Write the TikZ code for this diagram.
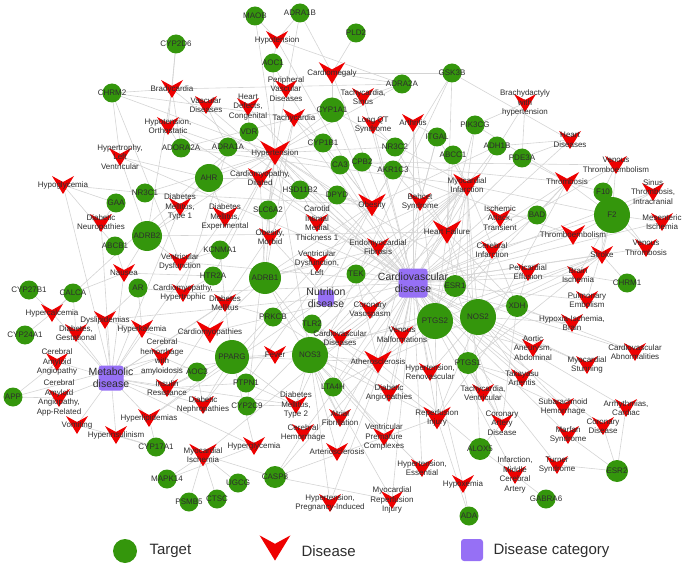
\documentclass[tikz,border=0pt]{standalone}
\usepackage{fontspec}
\setmainfont{Liberation Sans}
\usetikzlibrary{backgrounds}

\definecolor{tgreen}{RGB}{52,150,12}
\definecolor{dred}{RGB}{238,0,0}
\definecolor{cpurple}{RGB}{150,112,245}
\definecolor{edgegray}{RGB}{212,212,212}
\definecolor{labelgray}{RGB}{45,45,45}

\newcommand{\catfont}{\fontsize{10.5}{12}\selectfont}
\newcommand{\legfont}{\fontsize{15}{18}\selectfont}
% disease = red V mark with its label on top
\newcommand{\disnode}[4][1]{%
  \pic[scale=#1] at (#3) {chevron};
  \node[dlabel] (#2) at (#3) {#4};}

\begin{document}
\begin{tikzpicture}[
    x=1pt, y=-1pt,
    every node/.style={font=\fontsize{8}{9.5}\selectfont, text=labelgray},
    gene/.style={circle, fill=tgreen, inner sep=0pt, minimum size=19pt},
    target/.style={gene, label={center:#1}},
    dlabel/.style={inner sep=0pt, align=center},
    category/.style={rectangle, rounded corners=3pt, fill=cpurple, inner sep=0pt, minimum size=#1},
    edge/.style={draw=edgegray, line width=0.6pt},
    chevron/.pic={\fill[dred] (-11,-9) -- (0,-3) -- (11,-9) -- (0,9) -- cycle;}
]
\useasboundingbox (0,0) rectangle (685,572);

% categories
\node[category=29pt, label={[align=center, font=\catfont]center:Cardiovascular\\disease}] (cvd) at (413,283) {};
\node[category=16pt, label={[align=center, font=\catfont]center:Nutrition\\disease}] (nut) at (326,298) {};
\node[category=25pt, label={[align=center, font=\catfont]center:Metabolic\\disease}] (met) at (111,378) {};

% targets
\node[target=MAOB] (maob) at (255,16) {};
\node[target=ADRA1B] (adra1b) at (300,13) {};
\node[target=CYP2D6] (cyp2d6) at (176,44) {};
\node[target=PLD2] (pld2) at (356,33) {};
\node[target=AOC1] (aoc1) at (273,63) {};
\node[target=CHRM2] (chrm2) at (112,93) {};
\node[target=GSK3B] (gsk3b) at (452,73) {};
\node[target=ADRA2A] (adra2a) at (402,84) {};
\node[target=CYP1A1, minimum size=25pt] (cyp1a1) at (332,110) {};
\node[target=VDR] (vdr) at (249,132) {};
\node[target=ADORA2A] (adora2a) at (181,148) {};
\node[target=ADRA1A] (adra1a) at (228,147) {};
\node[target=CYP1B1] (cyp1b1) at (323,143) {};
\node[target=CA3] (ca3) at (340,165) {};
\node[target=PIK3CG] (pik3cg) at (475,125) {};
\node[target=ITGAL] (itgal) at (437,137) {};
\node[target=NR3C2] (nr3c2) at (395,147) {};
\node[target=ADH1B] (adh1b) at (497,146) {};
\node[target=ABCC1] (abcc1) at (453,155) {};
\node[target=CPB2] (cpb2) at (362,162) {};
\node[target=AKR1C3] (akr1c3) at (393,170) {};
\node[target=PDE3A] (pde3a) at (522,158) {};
\node[target=AHR, minimum size=28pt] (ahr) at (209,178) {};
\node[target=HSD11B2] (hsd11b2) at (300,190) {};
\node[target=DPYD] (dpyd) at (337,195) {};
\node[target=SLC6A2] (slc6a2) at (268,210) {};
\node[target=KCNMA1] (kcnma1) at (220,250) {};
\node[target=HTR2A] (htr2a) at (213,276) {};
\node[target=ADRB1, minimum size=32pt] (adrb1) at (265,278) {};
\node[target=PRKCB] (prkcb) at (273,317) {};
\node[target=TLR2] (tlr2) at (312,324) {};
\node[target=NR3C1] (nr3c1) at (145,193) {};
\node[target=GAA] (gaa) at (116,203) {};
\node[target=ADRB2, minimum size=30pt] (adrb2) at (147,236) {};
\node[target=ABCB1] (abcb1) at (115,246) {};
\node[target=AR] (ar) at (138,288) {};
\node[target=CYP27B1] (cyp27b1) at (29,290) {};
\node[target=CALCA] (calca) at (73,293) {};
\node[target=CYP24A1] (cyp24a1) at (25,335) {};
\node[target=TEK] (tek) at (356,274) {};
\node[target=ESR1, minimum size=22pt] (esr1) at (455,286) {};
\node[target=PTGS2, minimum size=36pt] (ptgs2) at (435,321) {};
\node[target=NOS2, minimum size=36pt] (nos2) at (478,317) {};
\node[target=XDH, minimum size=22pt] (xdh) at (517,306) {};
\node[target=F10] (f10) at (603,192) {};
\node[target=F2, minimum size=36pt] (f2) at (612,215) {};
\node[target=BAD] (bad) at (537,215) {};
\node[target=CHRM1] (chrm1) at (627,283) {};
\node[target=APP] (app) at (13,397) {};
\node[target=PPARG, minimum size=34pt] (pparg) at (232,357) {};
\node[target=NOS3, minimum size=36pt] (nos3) at (310,355) {};
\node[target=AOC3] (aoc3) at (197,372) {};
\node[target=PTPN1] (ptpn1) at (246,383) {};
\node[target=LTA4H] (lta4h) at (333,387) {};
\node[target=CYP2C9] (cyp2c9) at (247,406) {};
\node[target=CYP17A1] (cyp17a1) at (156,447) {};
\node[target=MAPK14] (mapk14) at (167,479) {};
\node[target=CASP8, minimum size=22pt] (casp8) at (275,477) {};
\node[target=UGCG] (ugcg) at (238,483) {};
\node[target=CTSC] (ctsc) at (217,499) {};
\node[target=PSMB5] (psmb5) at (189,502) {};
\node[target=PTGS1, minimum size=22pt] (ptgs1) at (468,363) {};
\node[target=ALOX5, minimum size=22pt] (alox5) at (480,449) {};
\node[target=ADA] (ada) at (469,516) {};
\node[target=ESR2, minimum size=22pt] (esr2) at (617,471) {};
\node[target=GABRA6] (gabra6) at (546,499) {};

% diseases
\disnode{hypot}{277,40}{Hypotension}
\disnode{brady}{172,89}{Bradycardia}
\disnode[1.2]{cmegaly}{332,73}{Cardiomegaly}
\disnode{pvd}{286,89}{Peripheral\\Vascular\\Diseases}
\disnode{tachsin}{363,97}{Tachycardia,\\Sinus}
\disnode{vasc}{206,105}{Vascular\\Diseases}
\disnode{hdefect}{248,107}{Heart\\Defects,\\Congenital}
\disnode{tachy}{294,118}{Tachycardia}
\disnode{horth}{168,126}{Hypotension,\\Orthostatic}
\disnode{longqt}{373,125}{Long QT\\Syndrome}
\disnode{arthr}{413,123}{Arthritis}
\disnode{brachy}{525,103}{Brachydactyly\\with\\hypertension}
\disnode[1.35]{htn}{275,153}{Hypertension}
\disnode{heartdis}{570,140}{Heart\\Diseases}
\disnode{lvh}{120,157}{Hypertrophy,\\Left\\Ventricular}
\disnode{vte}{616,165}{Venous\\Thromboembolism}
\disnode{hypogly}{63,185}{Hypoglycemia}
\disnode[1.1]{cmdil}{260,178}{Cardiomyopathy,\\Dilated}
\disnode{dm1}{180,207}{Diabetes\\Mellitus,\\Type 1}
\disnode[1.15]{dmexp}{225,217}{Diabetes\\Mellitus,\\Experimental}
\disnode{cimt}{317,223}{Carotid\\Intimal\\Medial\\Thickness 1}
\disnode{obmorb}{270,237}{Obesity,\\Morbid}
\disnode{dneuro}{101,223}{Diabetic\\Neuropathies}
\disnode[1.25]{obes}{372,205}{Obesity}
\disnode{behcet}{420,202}{Behcet\\Syndrome}
\disnode[1.25]{mi}{467,185}{Myocardial\\Infarction}
\disnode{tia}{500,218}{Ischemic\\Attack,\\Transient}
\disnode[1.3]{hf}{447,232}{Heart Failure}
\disnode[1.1]{thromb}{567,182}{Thrombosis}
\disnode{sinus}{653,192}{Sinus\\Thrombosis,\\Intracranial}
\disnode{mesis}{662,222}{Mesenteric\\Ischemia}
\disnode[1.1]{thremb}{573,235}{Thromboembolism}
\disnode{venthr}{646,248}{Venous\\Thrombosis}
\disnode{stroke}{602,255}{Stroke}
\disnode{emfib}{378,247}{Endomyocardial\\Fibrosis}
\disnode{cinf}{492,250}{Cerebral\\Infarction}
\disnode{peric}{528,272}{Pericardial\\Effusion}
\disnode{brisch}{578,275}{Brain\\Ischemia}
\disnode{vdys}{180,262}{Ventricular\\Dysfunction}
\disnode{vdysl}{317,263}{Ventricular\\Dysfunction,\\Left}
\disnode{nausea}{124,273}{Nausea}
\disnode{cmhyp}{183,293}{Cardiomyopathy,\\Hypertrophic}
\disnode{dm}{225,303}{Diabetes\\Mellitus}
\disnode{pemb}{587,300}{Pulmonary\\Embolism}
\disnode{hibrain}{572,323}{Hypoxia-Ischemia,\\Brain}
\disnode{hcalc}{52,313}{Hypercalcemia}
\disnode{dyslip}{105,320}{Dyslipidemias}
\disnode{hkal}{142,329}{Hyperkalemia}
\disnode{dgest}{76,333}{Diabetes,\\Gestational}
\disnode[1.25]{cmpath}{210,332}{Cardiomyopathies}
\disnode{cvaso}{370,310}{Coronary\\Vasospasm}
\disnode{cvdis}{340,338}{Cardiovascular\\Diseases}
\disnode{vmal}{402,335}{Venous\\Malformations}
\disnode{aaa}{533,348}{Aortic\\Aneurysm,\\Abdominal}
\disnode{cvabn}{635,352}{Cardiovascular\\Abnormalities}
\disnode{mstun}{587,365}{Myocardial\\Stunning}
\disnode{taka}{522,378}{Takayasu\\Arteritis}
\disnode{caa}{57,362}{Cerebral\\Amyloid\\Angiopathy}
\disnode{chamy}{162,357}{Cerebral\\hemorrhage\\with\\amyloidosis}
\disnode{fever}{275,355}{Fever}
\disnode{insres}{167,388}{Insulin\\Resistance}
\disnode{caaapp}{59,398}{Cerebral\\Amyloid\\Angiopathy,\\App-Related}
\disnode[1.25]{athero}{378,362}{Atherosclerosis}
\disnode{htnren}{430,372}{Hypertension,\\Renovascular}
\disnode{tachv}{483,393}{Tachycardia,\\Ventricular}
\disnode{dneph}{203,405}{Diabetic\\Nephropathies}
\disnode{dm2}{296,405}{Diabetes\\Mellitus,\\Type 2}
\disnode{afib}{340,418}{Atrial\\Fibrillation}
\disnode{dangio}{389,393}{Diabetic\\Angiopathies}
\disnode{hlipid}{149,418}{Hyperlipidemias}
\disnode{sah}{563,407}{Subarachnoid\\Hemorrhage}
\disnode{arrhy}{626,408}{Arrhythmias,\\Cardiac}
\disnode{cad}{502,423}{Coronary\\Artery\\Disease}
\disnode[1.25]{reperf}{437,418}{Reperfusion\\Injury}
\disnode{cordis}{603,426}{Coronary\\Disease}
\disnode{marfan}{568,435}{Marfan\\Syndrome}
\disnode{chem}{303,433}{Cerebral\\Hemorrhage}
\disnode{vomit}{77,425}{Vomiting}
\disnode{hins}{116,435}{Hyperinsulinism}
\disnode[1.25]{misch}{203,455}{Myocardial\\Ischemia}
\disnode{hglyc}{254,446}{Hyperglycemia}
\disnode{arterio}{337,452}{Arteriosclerosis}
\disnode{vpc}{384,437}{Ventricular\\Premature\\Complexes}
\disnode{imca}{515,475}{Infarction,\\Middle\\Cerebral\\Artery}
\disnode{turner}{557,465}{Turner\\Syndrome}
\disnode{htness}{422,468}{Hypertension,\\Essential}
\disnode{hypox}{463,484}{Hypoxemia}
\disnode{htnpreg}{330,503}{Hypertension,\\Pregnancy-Induced}
\disnode{mreperf}{392,500}{Myocardial\\Reperfusion\\Injury}

% connectors
\begin{scope}[on background layer]
\foreach \d in {hypot, brady, cmegaly, pvd, tachsin, vasc, hdefect, tachy, horth, longqt, arthr, brachy, htn, heartdis, lvh, vte, cmdil, cimt, behcet, mi, tia, hf, thromb, sinus, mesis, thremb, venthr, stroke, emfib, cinf, peric, brisch, vdys, vdysl, cmhyp, pemb, hibrain, cmpath, cvaso, cvdis, vmal, aaa, cvabn, mstun, taka, athero, htnren, tachv, dangio, sah, arrhy, cad, reperf, cordis, marfan, chem, misch, arterio, vpc, imca, turner, htness, hypox, htnpreg, mreperf, afib}
  \draw[edge] (cvd.center) -- (\d.center);
\foreach \d in {hypogly, dneuro, dm1, dmexp, nausea, hcalc, dyslip, hkal, dgest, dm, caa, chamy, caaapp, insres, hlipid, vomit, hins, dneph, dm2, hglyc, fever, obes}
  \draw[edge] (met.center) -- (\d.center);
\foreach \d in {obes, obmorb, dyslip, hlipid}
  \draw[edge] (nut.center) -- (\d.center);
\foreach \t/\d in {maob/hypot, maob/htn, adra1b/hypot, adra1b/htn, adra1b/cmegaly,
    cyp2d6/brady, cyp2d6/horth, pld2/cmegaly, aoc1/hypot, aoc1/pvd, aoc1/htn,
    chrm2/brady, chrm2/lvh, chrm2/vdys, chrm2/htn, chrm2/tachy,
    gsk3b/cmegaly, gsk3b/dm2, gsk3b/heartdis, gsk3b/hf, gsk3b/obes,
    adra2a/cmegaly, adra2a/htn, adra2a/brady, adra2a/hypot, adra2a/tachsin,
    cyp1a1/htn, cyp1a1/tachy, cyp1a1/cmegaly, cyp1a1/obes, cyp1a1/mi,
    vdr/htn, vdr/hdefect, vdr/hcalc, vdr/dm1,
    adora2a/brady, adora2a/horth, adora2a/htn, adora2a/mi, adora2a/tachy,
    adra1a/htn, adra1a/horth, adra1a/vasc, adra1a/cmhyp,
    cyp1b1/htn, cyp1b1/tachy, cyp1b1/obes, ca3/htn, ca3/obes,
    pik3cg/mi, pik3cg/hf, pik3cg/thromb, pik3cg/brachy,
    itgal/mi, itgal/behcet, itgal/athero, itgal/arthr,
    nr3c2/htn, nr3c2/hf, nr3c2/longqt, adh1b/heartdis, adh1b/obes, adh1b/mi,
    abcc1/hf, abcc1/mi, cpb2/thromb, cpb2/thremb, cpb2/vte, akr1c3/obes, akr1c3/hf,
    pde3a/heartdis, pde3a/brachy, pde3a/hf, pde3a/thromb,
    ahr/htn, ahr/cmdil, ahr/dm1, ahr/dmexp, ahr/lvh,
    hsd11b2/htn, hsd11b2/obes, hsd11b2/insres, hsd11b2/cimt, dpyd/htn, dpyd/obes, dpyd/cimt,
    slc6a2/htn, slc6a2/obmorb, slc6a2/tachy, kcnma1/htn, kcnma1/vdys, kcnma1/dm,
    htr2a/htn, htr2a/cmhyp, htr2a/nausea,
    adrb1/htn, adrb1/hf, adrb1/tachy, adrb1/cmpath, adrb1/cmdil, adrb1/vdysl, adrb1/afib, adrb1/mi, adrb1/vpc,
    prkcb/dm, prkcb/dneph, prkcb/dangio, prkcb/mi, tlr2/athero, tlr2/mi, tlr2/reperf,
    nr3c1/hypogly, nr3c1/htn, nr3c1/obes, gaa/hypogly, gaa/dneuro,
    adrb2/htn, adrb2/brady, adrb2/lvh, adrb2/dm1, adrb2/nausea, adrb2/vdys, adrb2/hf,
    abcb1/nausea, abcb1/hypogly, ar/dyslip, ar/hkal, ar/cmhyp,
    cyp27b1/hcalc, calca/hcalc, calca/nausea, calca/dgest, cyp24a1/hcalc,
    tek/athero, tek/vmal, tek/mi, tek/emfib, esr1/mi, esr1/hf, esr1/athero, esr1/cad,
    ptgs2/hf, ptgs2/mi, ptgs2/athero, ptgs2/stroke, ptgs2/reperf, ptgs2/thromb, ptgs2/htn, ptgs2/cinf, ptgs2/fever, ptgs2/arthr, ptgs2/aaa,
    nos2/mi, nos2/hf, nos2/athero, nos2/reperf, nos2/htnren, nos2/cinf, nos2/stroke, nos2/brisch, nos2/hibrain, nos2/mstun, nos2/taka, nos2/sah,
    xdh/hf, xdh/htn, xdh/mi, xdh/reperf, xdh/cad, xdh/peric, xdh/cvabn,
    f10/thromb, f10/vte, f10/venthr, f10/stroke,
    f2/thromb, f2/sinus, f2/mesis, f2/venthr, f2/thremb, f2/vte, f2/stroke, f2/pemb, f2/mi, f2/cinf, f2/brisch,
    bad/thromb, bad/cinf, bad/tia, chrm1/brisch, chrm1/stroke,
    app/caa, app/caaapp, app/chamy,
    pparg/dm2, pparg/insres, pparg/obes, pparg/hlipid, pparg/dyslip, pparg/athero, pparg/dm, pparg/hglyc, pparg/dneph, pparg/fever,
    nos3/htn, nos3/athero, nos3/mi, nos3/hf, nos3/reperf, nos3/cvdis, nos3/cvaso, nos3/dm2, nos3/htnpreg, nos3/htness, nos3/afib, nos3/arterio, nos3/stroke, nos3/vpc, nos3/mreperf,
    aoc3/insres, aoc3/dneph, aoc3/chamy, ptpn1/insres, ptpn1/dm2, ptpn1/obes,
    lta4h/athero, lta4h/mi, lta4h/cvdis, cyp2c9/htn, cyp2c9/dm2, cyp2c9/mi,
    cyp17a1/hins, cyp17a1/hlipid, cyp17a1/vomit, mapk14/misch, mapk14/hglyc,
    casp8/misch, casp8/reperf, casp8/chem, casp8/athero, casp8/mreperf,
    ugcg/misch, ctsc/misch, psmb5/misch,
    ptgs1/thromb, ptgs1/mi, ptgs1/stroke, ptgs1/tachv, ptgs1/cad, ptgs1/taka, ptgs1/sah,
    alox5/athero, alox5/cad, alox5/mi, alox5/imca, ada/hypox, ada/reperf,
    esr2/arrhy, esr2/cordis, esr2/turner, esr2/marfan, gabra6/imca}
  \draw[edge] (\t.center) -- (\d.center);
\end{scope}

% legend
\node[gene, minimum size=24pt] (legtarget) at (125,551) {};
\node[anchor=west, font=\legfont] (legtargettext) at (146,551) {Target};
\pic[scale=1.4] at (275,548) {chevron};
\coordinate (legdisease) at (275,548);
\node[anchor=west, font=\legfont] (legdiseasetext) at (298,551) {Disease};
\node[category=22pt] (legcat) at (472,550) {};
\node[anchor=west, font=\legfont] (legcattext) at (490,551) {Disease category};
\end{tikzpicture}
\end{document}
